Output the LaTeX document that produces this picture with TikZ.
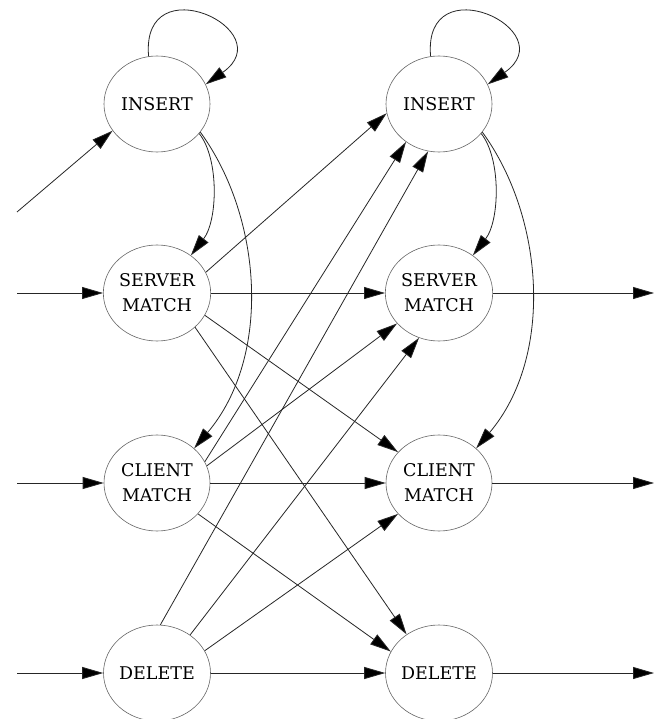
\documentclass[tikz,border=0pt]{standalone}
\usepackage{fontspec}
\setmainfont{DejaVu Serif}
\usetikzlibrary{shapes.geometric,arrows.meta}
\begin{document}
\begin{tikzpicture}[x=1pt,y=-1pt,
  st/.style={ellipse,draw=black!60,line width=0.6pt,minimum width=106pt,minimum height=96pt,
    inner sep=0pt,align=center,font=\fontsize{17.5}{25}\selectfont},
  ed/.style={draw=black!85,line width=0.8pt,-{Triangle[length=21pt,width=12pt,fill=black]}},
]
\useasboundingbox (0,0) rectangle (654,719);
\fill[white] (0,0) rectangle (654,719);
% nodes
\node[st] (IL) at (157,104) {INSERT};
\node[st] (SL) at (157,293) {SERVER\\MATCH};
\node[st] (CL) at (157,483) {CLIENT\\MATCH};
\node[st] (DL) at (157,673) {DELETE};
\node[st] (IR) at (439,104) {INSERT};
\node[st] (SR) at (439,293) {SERVER\\MATCH};
\node[st] (CR) at (439,483) {CLIENT\\MATCH};
\node[st] (DR) at (439,673) {DELETE};
% free ends
\coordinate (inI) at (17,212);
\coordinate (inS) at (17,293);
\coordinate (inC) at (17,483);
\coordinate (inD) at (17,673);
\coordinate (outS) at (654,293);
\coordinate (outC) at (654,483);
\coordinate (outD) at (654,673);
% inputs
\draw[ed] (inI) -- (IL.211);
\draw[ed] (inS) -- (SL);
\draw[ed] (inC) -- (CL);
\draw[ed] (inD) -- (DL);
% outputs
\draw[ed] (SR) -- (outS);
\draw[ed] (CR) -- (outC);
\draw[ed] (DR) -- (outD);
% left insert
\draw[ed] (IL.100) .. controls +(-8,-92) and +(77,-54) .. (IL.22);
\draw[ed] (IL.325) .. controls +(20,25) and +(27,-35) .. (SL.48);
\draw[ed] (IL.327) .. controls +(62,85) and +(78,-92) .. (CL.43);
% right insert
\draw[ed] (IR.100) .. controls +(-8,-92) and +(77,-54) .. (IR.22);
\draw[ed] (IR.325) .. controls +(20,25) and +(27,-35) .. (SR.48);
\draw[ed] (IR.327) .. controls +(62,85) and +(78,-92) .. (CR.43);
% server match
\draw[ed] (SL.23) -- (IR.190);
\draw[ed] (SL) -- (SR);
\draw[ed] (SL.335) -- (CR.143);
\draw[ed] (SL.318) -- (DR.130);
% client match
\draw[ed] (CL.24) -- (IR.229);
\draw[ed] (CL.19) -- (SR.216);
\draw[ed] (CL) -- (CR);
\draw[ed] (CL.323) -- (DR.156);
% delete
\draw[ed] (DL.86) -- (IR.257);
\draw[ed] (DL.49) -- (SR.246);
\draw[ed] (DL.25) -- (CR.217);
\draw[ed] (DL) -- (DR);
\end{tikzpicture}
\end{document}
